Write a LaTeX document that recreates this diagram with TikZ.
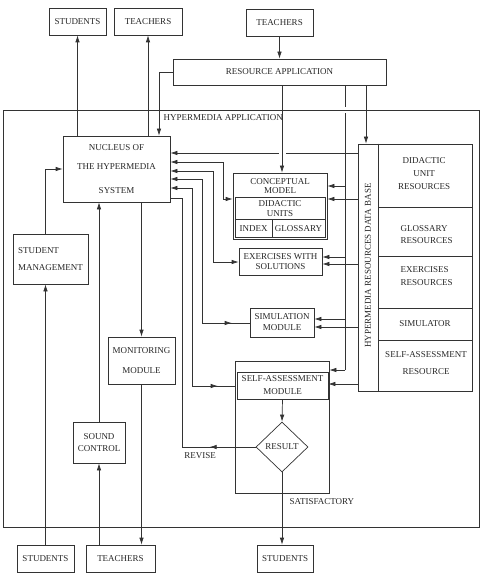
\documentclass[tikz,border=0pt]{standalone}
\usepackage{fontspec}
\setmainfont{Liberation Serif}
\usetikzlibrary{arrows.meta,shapes.geometric,decorations.markings}
\begin{document}
\begin{tikzpicture}[x=1pt,y=-1pt,
  every node/.style={font=\fontsize{9}{10}\selectfont, text=black!85, align=center},
  box/.style={draw=black!80, line width=0.7pt, inner sep=0pt, align=center},
  ln/.style={draw=black!80, line width=0.7pt},
  tip/.tip={Latex[length=7pt,width=4.5pt]},
  arr/.style={ln, -tip},
  sarr/.style={ln, tip-},
  barr/.style={ln, tip-tip},
  midarr/.style={postaction={decorate}, decoration={markings, mark=at position #1 with {\arrow[black!80]{Latex[length=7pt,width=4.5pt]}}}},
]
\useasboundingbox (0,0) rectangle (481,577);

% top nodes
\node[box, minimum width=57pt, minimum height=27pt] (stuT) at (77.5,21.5) {STUDENTS};
\node[box, minimum width=68pt, minimum height=27pt] (teaT1) at (148,21.5) {TEACHERS};
\node[box, minimum width=67pt, minimum height=27pt] (teaT2) at (279.5,22.5) {TEACHERS};
\node[box, minimum width=213pt, minimum height=26pt] (resapp) at (279.5,72) {RESOURCE APPLICATION};

% inner nodes
\node[box, minimum width=107pt, minimum height=66pt] (nuc) at (116.5,169) {NUCLEUS OF\\[9pt]THE HYPERMEDIA\\[14pt]SYSTEM};
\node[box, minimum width=75pt, minimum height=50pt, align=left] (stumgmt) at (50.5,259) {STUDENT\\[7pt]MANAGEMENT};
\node[box, minimum width=52pt, minimum height=41pt] (sound) at (99,442.5) {SOUND\\[2pt]CONTROL};
\node[box, minimum width=67pt, minimum height=47pt] (monitor) at (141.5,360.5) {MONITORING\\[10pt]MODULE};

\node[box, minimum width=94pt, minimum height=66pt] (concept) at (280,206) {};
\node[box, minimum width=90pt, minimum height=40pt] (du) at (280,217) {};
\node (cmtext) at (280,186.5) {CONCEPTUAL\\[-1pt]MODEL};
\node (dutext) at (280,209) {DIDACTIC\\UNITS};
\draw[ln] (du.west |- 0,219) -- (du.east |- 0,219);
\draw[ln] (272,219) -- (du.south -| 272,0);
\node (index) at (253.5,228.5) {INDEX};
\node (gloss) at (298.5,228.5) {GLOSSARY};

\node[box, minimum width=83pt, minimum height=27pt] (exer) at (280.5,261.5) {EXERCISES WITH\\SOLUTIONS};
\node[box, minimum width=64pt, minimum height=29pt] (sim) at (282,322.5) {SIMULATION\\[1pt]MODULE};
\node[box, minimum width=94pt, minimum height=132pt] (saout) at (282,427) {};
\node[box, minimum width=91pt, minimum height=27pt] (sa) at (282.5,385.5) {SELF-ASSESSMENT\\[3pt]MODULE};
\node[box, diamond, minimum width=52pt, minimum height=50pt] (result) at (282,447) {RESULT};

% bottom nodes
\node[box, minimum width=57pt, minimum height=27pt] (stuB) at (45.5,558.5) {STUDENTS};
\node[box, minimum width=69pt, minimum height=27pt] (teaB) at (120.5,558.5) {TEACHERS};
\node[box, minimum width=56pt, minimum height=27pt] (stuBR) at (285,558.5) {STUDENTS};

% data base
\node[box, minimum width=114pt, minimum height=247pt] (db) at (415,267.5) {};
\draw[ln] (db.north -| 378,0) -- (db.south -| 378,0);
\foreach \yy in {207,256,308,340} \draw[ln] (378,\yy) -- (db.east |- 0,\yy);
\node[rotate=90] (dbtext) at (368,265.5) {HYPERMEDIA RESOURCES DATA BASE};
\node (r1) at (424,174) {DIDACTIC\\[3pt]UNIT\\[3pt]RESOURCES};
\node[anchor=west, align=left] (r2) at (397,235) {GLOSSARY\\[2pt]RESOURCES};
\node[anchor=west, align=left] (r3) at (397,276.5) {EXERCISES\\[3pt]RESOURCES};
\node (r4) at (425,324) {SIMULATOR};
\node (r5) at (426,363.5) {SELF-ASSESSMENT\\[7pt]RESOURCE};

% top connectors
\draw[arr] (stuT.south |- nuc.north) -- (stuT.south);
\draw[arr] (teaT1.south |- nuc.north) -- (teaT1.south);
\draw[arr] (teaT2.south) -- (resapp.north);
\draw[arr] (resapp.west) -| ([xshift=42.5pt]nuc.north);

% bus from resource application
\coordinate (bx) at (345,0);
\draw[ln] (resapp.south -| bx) -- (bx |- 0,370);
\draw[arr] (bx |- 0,186) -- (concept.east |- 0,186);
\draw[arr] (bx |- 0,257) -- (exer.east |- 0,257);
\draw[arr] (bx |- 0,319) -- (sim.east |- 0,319);
\draw[arr] (bx |- 0,370) -- (saout.east |- 0,370);
\draw[arr] (resapp.south -| 366,0) -- (db.north -| 366,0);

% gap in bus at the application frame
\fill[white] (342.5,107.5) rectangle (348,113);
\node[box, minimum width=476pt, minimum height=417pt] (hyper) at (241,318.5) {};
\node[anchor=west] (hlabel) at (160,118) {HYPERMEDIA APPLICATION};

% data base connectors
\draw[arr] (db.west |- 0,153) -- (nuc.east |- 0,153);
\fill[white] (278.5,150.5) rectangle (285.5,155.5);
\draw[arr] (resapp.south -| 282,0) -- (concept.north -| 282,0);
\draw[arr] (db.west |- 0,199) -- (concept.east |- 0,199);
\draw[arr] (db.west |- 0,264) -- (exer.east |- 0,264);
\draw[arr] (db.west |- 0,327) -- (sim.east |- 0,327);
\draw[arr] (db.west |- 0,384) -- (sa.east |- 0,384);

% nucleus links
\draw[barr] (nuc.east |- 0,162) -| (223,199) -- (concept.west |- 0,199);
\draw[barr] (nuc.east |- 0,171) -| (213,262) -- (exer.west |- 0,262);
\draw[sarr, midarr=-18pt] (nuc.east |- 0,179) -| (202,323) -- (sim.west |- 0,323);
\draw[sarr, midarr=-17pt] (nuc.east |- 0,188) -| (192,386) -- (saout.west |- 0,386);
\draw[ln, midarr=46pt] (result.west) -| (182,198) -- (nuc.east |- 0,198);
\node (revise) at (200,456) {REVISE};

% left side
\draw[arr] (stuB.north) -- (stuB.north |- stumgmt.south);
\draw[arr] (stuB.north |- stumgmt.north) |- (nuc.west);
\draw[arr] (sound.south |- teaB.north) -- (sound.south);
\draw[arr] (sound.north) -- (sound.north |- nuc.south);
\draw[arr] (monitor.north |- nuc.south) -- (monitor.north);
\draw[arr] (monitor.south) -- (monitor.south |- teaB.north);

% self-assessment
\draw[arr] (sa.south) -- (result.north);
\draw[arr] (result.south) -- (result.south |- stuBR.north);
\node[anchor=west] (satis) at (286,502) {SATISFACTORY};
\end{tikzpicture}
\end{document}
